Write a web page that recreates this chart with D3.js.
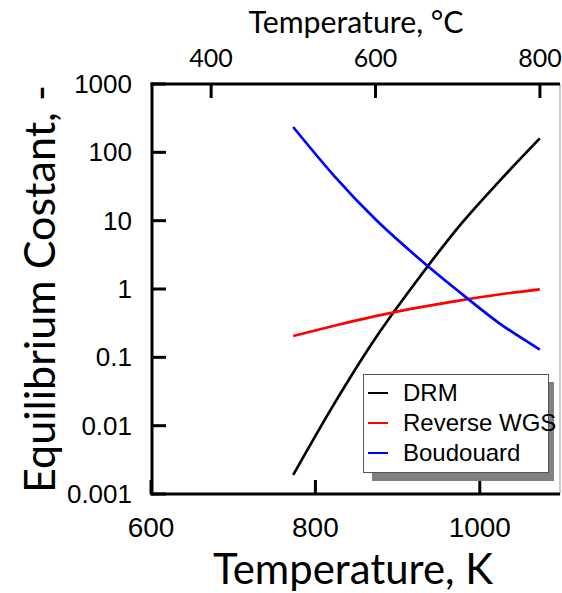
<!DOCTYPE html>
<html>
<head>
<meta charset="utf-8">
<script src="https://cdn.jsdelivr.net/npm/d3@7"></script>
<style>
  body { margin: 0; background: #fff; }
  svg { display: block; }
</style>
</head>
<body>
<svg id="chart" width="562" height="593"></svg>
<script>
// temperatures (K) and equilibrium constants
const tempK = [773, 823, 873, 923, 973, 1023, 1073];
const drm = [0.0019, 0.021, 0.19, 1.3, 7.8, 37, 160];
const rwgs = [0.205, 0.29, 0.40, 0.53, 0.67, 0.83, 0.99];
const boudouard = [235, 45, 10.5, 3.0, 0.95, 0.32, 0.13];

const seriesNames = ['DRM', 'Reverse WGS', 'Boudouard'];
const seriesColors = ['#000000', '#ff0000', '#0000ff'];
const seriesValues = [drm, rwgs, boudouard];

const xTicksK = [600, 800, 1000];
const xTicksC = [400, 600, 800];
const yTicks = [1000, 100, 10, 1, 0.1, 0.01, 0.001];
const yTickLabels = ['1000', '100', '10', '1', '0.1', '0.01', '0.001'];

const svg = d3.select('#chart');
const pLeft = 152, pRight = 560, pTop = 84, pBottom = 494;
const tickLen = 14;
const tickFont = 'Liberation Sans, Arial, sans-serif';
const titleFont = 'Lato, Open Sans, sans-serif';

const x = d3.scaleLinear().domain([600, 1100]).range([151, 562]);
const xC = d3.scaleLinear().domain([600 - 273.15, 1100 - 273.15]).range([151, 562]);
const y = d3.scaleLog().domain([0.001, 1000]).range([pBottom, pTop]);

// shrink / grow a text so its width hits a target
const fitText = (sel, target) => {
    const fs = parseFloat(sel.attr('font-size'));
    const w = sel.node().getComputedTextLength();
    sel.attr('font-size', (fs * target / w).toFixed(2));
};

// curves
const line = d3.line()
    .x((d, i) => x(tempK[i]))
    .y(d => y(d))
    .curve(d3.curveMonotoneX);

svg.append('g')
    .selectAll('path')
    .data(seriesValues)
    .join('path')
    .attr('d', d => line(d))
    .attr('fill', 'none')
    .attr('stroke', (d, i) => seriesColors[i])
    .attr('stroke-width', 2.7);

// frame right edge (thin grey)
svg.append('line')
    .attr('x1', pRight).attr('x2', pRight)
    .attr('y1', pTop).attr('y2', pBottom)
    .attr('stroke', '#999')
    .attr('stroke-width', 1);

// axes lines
const axisG = svg.append('g').attr('stroke', '#000').attr('stroke-width', 3);
axisG.append('line').attr('x1', pLeft).attr('x2', pLeft).attr('y1', pTop - 1.5).attr('y2', pBottom + 1.5);
axisG.append('line').attr('x1', pLeft - 1.5).attr('x2', pRight).attr('y1', pBottom).attr('y2', pBottom);
axisG.append('line').attr('x1', pLeft - 1.5).attr('x2', pRight).attr('y1', pTop).attr('y2', pTop);

// y ticks (inward)
axisG.selectAll('.yt')
    .data(yTicks)
    .join('line')
    .attr('x1', pLeft).attr('x2', pLeft + tickLen)
    .attr('y1', d => y(d)).attr('y2', d => y(d));

// bottom ticks (inward)
axisG.selectAll('.xt')
    .data(xTicksK)
    .join('line')
    .attr('x1', d => x(d)).attr('x2', d => x(d))
    .attr('y1', pBottom).attr('y2', pBottom - tickLen);

// top ticks (inward)
axisG.selectAll('.ct')
    .data(xTicksC)
    .join('line')
    .attr('x1', d => xC(d)).attr('x2', d => xC(d))
    .attr('y1', pTop).attr('y2', pTop + tickLen);

// y tick labels
svg.append('g')
    .selectAll('text')
    .data(yTicks)
    .join('text')
    .attr('x', 132)
    .attr('y', d => y(d))
    .attr('dy', '0.35em')
    .attr('text-anchor', 'end')
    .attr('font-family', tickFont)
    .attr('font-size', 26)
    .text((d, i) => yTickLabels[i]);

// bottom tick labels
svg.append('g')
    .selectAll('text')
    .data(xTicksK)
    .join('text')
    .attr('x', d => x(d))
    .attr('y', 537)
    .attr('text-anchor', 'middle')
    .attr('font-family', tickFont)
    .attr('font-size', 28)
    .text(d => d);

// top tick labels
svg.append('g')
    .selectAll('text')
    .data(xTicksC)
    .join('text')
    .attr('x', d => xC(d))
    .attr('y', 67)
    .attr('text-anchor', 'middle')
    .attr('font-family', titleFont)
    .attr('font-size', 25)
    .text(d => d);

// axis titles
const xTitle = svg.append('text')
    .attr('x', 353).attr('y', 584)
    .attr('text-anchor', 'middle')
    .attr('font-family', titleFont)
    .attr('font-size', 40)
    .text('Temperature, K');
fitText(xTitle, 280);

const topTitle = svg.append('text')
    .attr('x', 356).attr('y', 33)
    .attr('text-anchor', 'middle')
    .attr('font-family', titleFont)
    .attr('font-size', 27)
    .text('Temperature, °C');
fitText(topTitle, 215);

const yTitle = svg.append('text')
    .attr('transform', 'translate(55,289) rotate(-90)')
    .attr('text-anchor', 'middle')
    .attr('font-family', titleFont)
    .attr('font-size', 40)
    .text('Equilibrium Costant, -');
fitText(yTitle, 408);

// legend with drop shadow
const lg = svg.append('g');
lg.append('rect')
    .attr('x', 372).attr('y', 382)
    .attr('width', 182).attr('height', 99)
    .attr('fill', '#808080');
lg.append('rect')
    .attr('x', 363.5).attr('y', 374.5)
    .attr('width', 185).attr('height', 98)
    .attr('fill', '#fff')
    .attr('stroke', '#555')
    .attr('stroke-width', 1);

const rows = lg.selectAll('g.row')
    .data(seriesNames)
    .join('g')
    .attr('transform', (d, i) => `translate(0,${393 + i * 30})`);
rows.append('line')
    .attr('x1', 368).attr('x2', 388)
    .attr('stroke', (d, i) => seriesColors[i])
    .attr('stroke-width', 2);
rows.append('text')
    .attr('x', 403)
    .attr('dy', '0.35em')
    .attr('font-family', tickFont)
    .attr('font-size', 24)
    .text(d => d);
</script>
</body>
</html>
